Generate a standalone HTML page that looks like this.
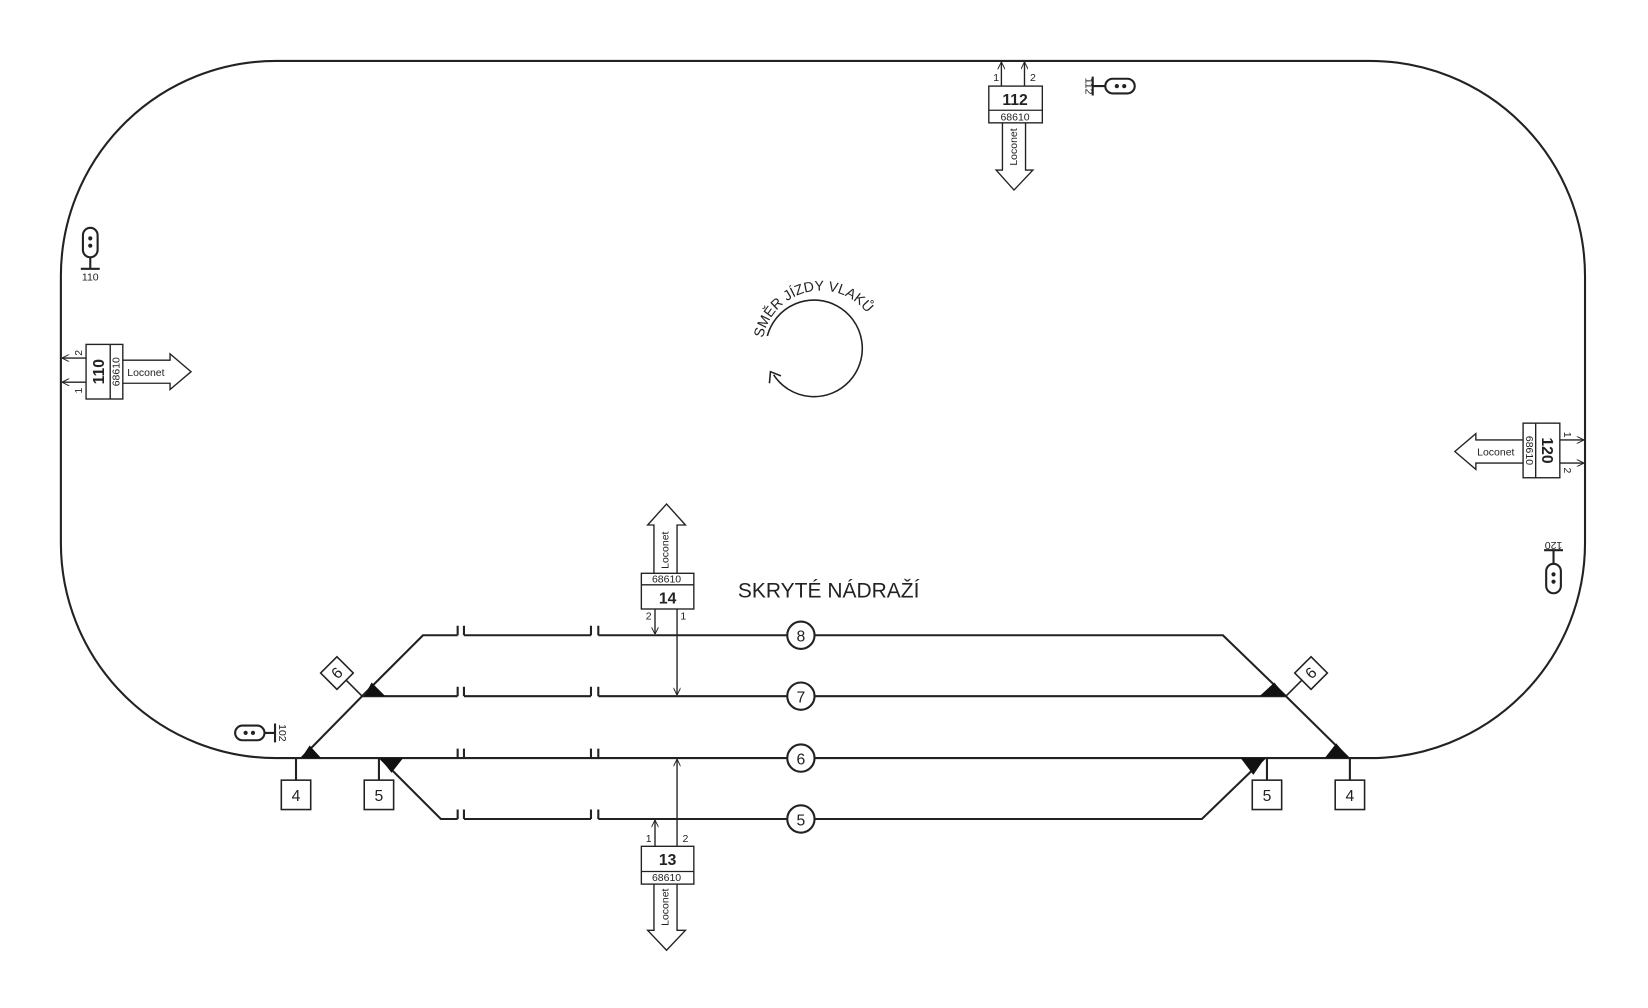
<!DOCTYPE html>
<html><head><meta charset="utf-8"><style>
html,body{margin:0;padding:0;background:#fff;}
svg{display:block;}
text{font-family:"Liberation Sans","DejaVu Sans",sans-serif;fill:#222;}
</style></head><body>
<svg width="1648" height="1008" viewBox="0 0 1570 960" preserveAspectRatio="none" xmlns="http://www.w3.org/2000/svg">
<defs>
<marker id="ah" viewBox="0 0 10 10" refX="10" refY="5" markerWidth="7" markerHeight="7" orient="auto" markerUnits="userSpaceOnUse"><path d="M0,0 L10,5 L0,10" fill="none" stroke="#222" stroke-width="1.3"/></marker>
<path id="arcp" d="M727,322 A56,56 0 0 1 834,312"/>
</defs>
<g fill="none" stroke="#222" stroke-width="2">
<rect x="58" y="58" width="1452" height="664" rx="205" ry="205"/>
<path d="M345,663 L403,605 L436,605 M442,605 L563,605 M570,605 L750,605 M776,605 L1165,605 L1225,663"/>
<path d="M287,722 L345,663 L436,663 M442,663 L563,663 M570,663 L750,663 M776,663 L1225,663 L1285,722"/>
<path d="M362,722 L420,780 L436,780 M442,780 L563,780 M570,780 L750,780 M776,780 L1145,780 L1205,722"/>
<path d="M436,605v-9 M442,605v-9 M563,605v-9 M570,605v-9 M436,663v-9 M442,663v-9 M563,663v-9 M570,663v-9 M436,722v-9 M442,722v-9 M563,722v-9 M570,722v-9 M436,780v-9 M442,780v-9 M563,780v-9 M570,780v-9"/>
<g fill="#fff">
<circle cx="763" cy="605" r="13"/><circle cx="763" cy="663" r="13"/><circle cx="763" cy="722" r="13"/><circle cx="763" cy="780" r="13"/>
</g>
<path d="M282,722v21 M361,722v21 M1207,722v21 M1286,722v21"/>
<rect x="268" y="743" width="28" height="28" stroke-width="1.5"/>
<rect x="347" y="743" width="28" height="28" stroke-width="1.5"/>
<rect x="1193" y="743" width="28" height="28" stroke-width="1.5"/>
<rect x="1272" y="743" width="28" height="28" stroke-width="1.5"/>
<path d="M345,663 L330,648 M1225,663 L1240,648" stroke-width="1.5"/>
<rect x="310" y="630" width="22" height="22" transform="rotate(45 321 641)" stroke-width="1.5"/>
<rect x="1238" y="630" width="22" height="22" transform="rotate(45 1249 641)" stroke-width="1.5"/>
</g>
<g fill="#111">
<path d="M354,650 L367,663 L347,663 Z"/>
<path d="M295,710 L306,722 L287,722 Z"/>
<path d="M362,722 L384,722 L373,736 Z"/>
<path d="M1214,650 L1225,663 L1200,663 Z"/>
<path d="M1273,708 L1285,722 L1262,722 Z"/>
<path d="M1182,722 L1205,722 L1194,738 Z"/>
</g>
<g text-anchor="middle" font-size="15">
<text x="763" y="611">8</text><text x="763" y="669">7</text><text x="763" y="728">6</text><text x="763" y="786">5</text>
<text x="282" y="763">4</text><text x="361" y="763">5</text><text x="1207" y="763">5</text><text x="1286" y="763">4</text>
<text x="0" y="0" transform="translate(321,641) rotate(-45) translate(0,5)">6</text>
<text x="0" y="0" transform="translate(1249,641) rotate(-45) translate(0,5)">6</text>
</g>
<text x="703" y="569" font-size="20">SKRYTÉ NÁDRAŽÍ</text>
<path d="M731,320 A46,46 0 1 1 737,357" fill="none" stroke="#222" stroke-width="1.5"/>
<path d="M733,365 L734,354 L744,358" fill="none" stroke="#222" stroke-width="1.5"/>
<text font-size="13.5"><textPath href="#arcp" startOffset="0">SMĚR JÍZDY VLAKŮ</textPath></text>
<g stroke="#222" stroke-width="1.3" fill="#fff">
<path d="M623,546 V500 H617 L635,480 L653,500 H645 V546"/>
<rect x="611" y="546" width="50" height="34"/><line x1="611" y1="557" x2="661" y2="557"/>
<line x1="624" y1="580" x2="624" y2="604" marker-end="url(#ah)"/>
<line x1="645" y1="580" x2="645" y2="662" marker-end="url(#ah)"/>
<path d="M623,842 V886 H617 L635,905 L653,886 H645 V842"/>
<rect x="611" y="806" width="50" height="36"/><line x1="611" y1="830" x2="661" y2="830"/>
<line x1="624" y1="806" x2="624" y2="781" marker-end="url(#ah)"/>
<line x1="645" y1="806" x2="645" y2="723" marker-end="url(#ah)"/>
<path d="M955,117 V162 H949 L966,181 L984,162 H977 V117"/>
<rect x="942" y="82" width="51" height="35"/><line x1="942" y1="105" x2="993" y2="105"/>
<line x1="954" y1="82" x2="954" y2="59" marker-end="url(#ah)"/>
<line x1="976" y1="82" x2="976" y2="59" marker-end="url(#ah)"/>
<path d="M117,343 H162 V337 L182,354 L162,371 V365 H117"/>
<rect x="82" y="328" width="35" height="52"/><line x1="105" y1="328" x2="105" y2="380"/>
<line x1="82" y1="341" x2="59" y2="341" marker-end="url(#ah)"/>
<line x1="82" y1="364" x2="59" y2="364" marker-end="url(#ah)"/>
<path d="M1451,419 H1406 V413 L1386,430 L1406,447 V441 H1451"/>
<rect x="1451" y="403" width="35" height="52"/><line x1="1463" y1="403" x2="1463" y2="455"/>
<line x1="1486" y1="419" x2="1509" y2="419" marker-end="url(#ah)"/>
<line x1="1486" y1="441" x2="1509" y2="441" marker-end="url(#ah)"/>
</g>
<g font-size="10" text-anchor="middle">
<text x="635" y="555">68610</text><text x="635" y="839">68610</text><text x="967" y="115">68610</text>
<text x="618" y="590">2</text><text x="651" y="590">1</text>
<text x="618" y="802">1</text><text x="653" y="802">2</text>
<text x="949" y="77">1</text><text x="984" y="77">2</text>
<text transform="translate(637,524) rotate(-90)">Loconet</text>
<text transform="translate(637,864) rotate(-90)">Loconet</text>
<text transform="translate(969,140) rotate(-90)">Loconet</text>
<text x="139" y="358">Loconet</text>
<text x="1425" y="434">Loconet</text>
<text transform="translate(114,354) rotate(-90)">68610</text>
<text transform="translate(1454,429) rotate(90)">68610</text>
<text transform="translate(78,336) rotate(-90)">2</text>
<text transform="translate(78,372) rotate(-90)">1</text>
<text transform="translate(1490,414) rotate(90)">1</text>
<text transform="translate(1490,448) rotate(90)">2</text>
</g>
<g font-size="15" font-weight="bold" text-anchor="middle">
<text x="636" y="575">14</text><text x="636" y="824">13</text><text x="967" y="100">112</text>
<text transform="translate(99,354) rotate(-90)">110</text>
<text transform="translate(1469,429) rotate(90)">120</text>
</g>
<g fill="#fff" stroke="#222" stroke-width="2">
<rect x="79" y="217" width="14" height="28" rx="7"/>
<rect x="1053" y="75" width="28" height="14" rx="7"/>
<rect x="224" y="691" width="28" height="14" rx="7"/>
<rect x="1473" y="537" width="14" height="28" rx="7"/>
<path d="M86,245 V256 M77,256 H95 M1053,82 H1041 M1041,73 V91 M252,698 H262 M262,689 V707 M1480,537 V524 M1471,524 H1489" fill="none"/>
</g>
<g fill="#222">
<circle cx="86" cy="227" r="2"/><circle cx="86" cy="234" r="2"/>
<circle cx="1064" cy="82" r="2"/><circle cx="1071" cy="82" r="2"/>
<circle cx="234" cy="698" r="2"/><circle cx="241" cy="698" r="2"/>
<circle cx="1480" cy="547" r="2"/><circle cx="1480" cy="554" r="2"/>
</g>
<g font-size="10" text-anchor="middle">
<text x="86" y="267">110</text>
<text transform="translate(1034,82) rotate(90)">112</text>
<text transform="translate(266,698) rotate(90)">102</text>
<text transform="translate(1480,516) rotate(180)">120</text>
</g>
</svg>
</body></html>
